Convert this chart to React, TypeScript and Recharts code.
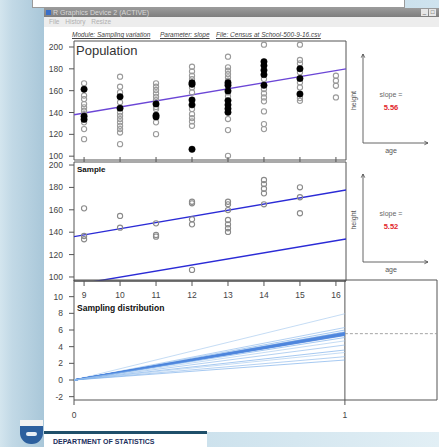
import React from 'react';
import { ComposedChart, Scatter, Line, XAxis, YAxis, ReferenceArea, ReferenceLine } from 'recharts';

// ---------- data ----------
const ages = [9, 10, 11, 12, 13, 14, 15, 16];

// population heights (grey open circles) per age
const popOtherHeights: number[][] = [
  [166.7, 155.5, 152.3, 147.7, 144.7, 141.6, 138.5, 131.0, 124.8, 115.6],
  [172.8, 163.6, 158.4, 149.3, 140.0, 137.0, 134.0, 131.0, 127.8, 124.8, 121.7, 111.0],
  [166.7, 163.6, 160.6, 157.5, 154.4, 151.4, 145.0, 143.1, 131.0, 120.2],
  [181.9, 177.7, 173.7, 170.6, 163.0, 158.4, 143.1, 138.5, 134.9, 131.8, 127.8],
  [191.1, 181.4, 178.3, 175.2, 172.2, 169.1, 158.4, 155.0, 134.0, 123.9, 100.3],
  [202.1, 170.6, 161.5, 157.5, 153.8, 150.2, 141.0, 129.4, 124.8],
  [202.1, 188.1, 185.0, 176.8, 167.6, 163.0, 153.2, 150.7],
  [173.7, 169.1, 164.5, 153.8],
];

// sampled heights (black dots in population, open circles in sample)
const sampleHeights: number[][] = [
  [161.3, 136.6, 133.7],
  [154.5, 144.0],
  [147.9, 137.5, 136.0],
  [167.2, 165.8, 151.5, 147.0, 106.3],
  [167.2, 164.9, 159.8, 150.9, 147.0, 143.5, 140.2],
  [186.6, 183.0, 178.8, 174.7, 164.9],
  [180.1, 171.2, 156.9],
  [],
];

const popFitLine = [{ x: 8.72, y: 137.9 }, { x: 16.28, y: 180.0 }];
const sampleFitLine = [{ x: 8.72, y: 136.0 }, { x: 16.28, y: 177.7 }];
const shiftedFitLine = [{ x: 8.72, y: 92.9 }, { x: 16.28, y: 133.9 }];

const popSlope = 5.56;
const sampleSlope = 5.52;

const simulatedSlopes = [7.95, 6.3, 6.0, 5.8, 5.7, 5.62, 5.56, 5.52, 5.48, 5.42, 5.35, 5.1, 4.7, 4.2, 3.6, 3.3, 2.8, 2.4];

const heightTicks = [100, 120, 140, 160, 180, 200];
const slopeTicks = [-2, 0, 2, 4, 6, 8, 10];
const distTicks = [0, 1];

const ageDomain: [number, number] = [8.72, 16.28];
const popHeightDomain: [number, number] = [96.5, 205.5];
const sampleHeightDomain: [number, number] = [96.4, 202.7];
const distXDomain: [number, number] = [0, 1.34];
const distYDomain: [number, number] = [-2.4, 12];

// ---------- derived tables ----------
const toPoints = (rows: number[][]) =>
  ages.flatMap((a, i) => rows[i].map((h) => ({ x: a, y: h })));
const popOtherPts = toPoints(popOtherHeights);
const samplePts = toPoints(sampleHeights);
const slopeLines = simulatedSlopes.map((s) => [{ x: 0, y: 0 }, { x: 1, y: s }]);
const dashedSeg = [{ x: 1, y: popSlope }, { x: distXDomain[1], y: popSlope }];

const FONT = '"Liberation Sans", Arial, sans-serif';
const tickStyle = { fontSize: 8.5, fill: '#444', fontFamily: FONT };
const W = 439;
const H = 447;

const OpenCircle = (p: any) => (
  <circle cx={p.cx} cy={p.cy} r={2.6} fill="none" stroke="#9a9a9a" strokeWidth={1.1} />
);
const FilledCircle = (p: any) => (
  <circle cx={p.cx} cy={p.cy} r={3.2} fill="#000" stroke="#000" strokeWidth={0.5} />
);
const SampleCircle = (p: any) => (
  <circle cx={p.cx} cy={p.cy} r={2.6} fill="none" stroke="#8a8a8a" strokeWidth={1.1} />
);

const layer: React.CSSProperties = { position: 'absolute', left: 0, top: 0 };

function PopulationChart() {
  return (
    <div style={layer}>
      <ComposedChart width={W} height={H} margin={{ top: 41, right: 93, bottom: 287, left: 44 }}>
        <XAxis type="number" dataKey="x" domain={ageDomain} allowDataOverflow hide />
        <YAxis
          type="number"
          domain={popHeightDomain}
          allowDataOverflow
          ticks={heightTicks}
          width={30}
          axisLine={false}
          tickSize={5}
          tickMargin={6}
          tickLine={{ stroke: '#555' }}
          tick={tickStyle}
          interval={0}
        />
        <ReferenceArea x1={ageDomain[0]} x2={ageDomain[1]} y1={popHeightDomain[0]} y2={popHeightDomain[1]} fill="none" stroke="#555" strokeWidth={1} />
        <Scatter data={popOtherPts} dataKey="y" shape={OpenCircle} isAnimationActive={false} />
        <Scatter data={samplePts} dataKey="y" shape={FilledCircle} isAnimationActive={false} />
        <Line data={popFitLine} dataKey="y" stroke="#6b46d6" strokeWidth={1.4} dot={false} isAnimationActive={false} />
      </ComposedChart>
    </div>
  );
}

function SampleChart() {
  return (
    <div style={layer}>
      <ComposedChart width={W} height={H} margin={{ top: 156, right: 93, bottom: 142, left: 44 }}>
        <XAxis
          xAxisId="b"
          type="number"
          dataKey="x"
          domain={ageDomain}
          allowDataOverflow
          ticks={ages}
          interval={0}
          height={24}
          axisLine={{ stroke: '#444' }}
          tickSize={5}
          tickMargin={6}
          tickLine={{ stroke: '#555' }}
          tick={tickStyle}
        />
        <XAxis
          xAxisId="t"
          orientation="top"
          type="number"
          dataKey="x"
          domain={ageDomain}
          allowDataOverflow
          ticks={ages}
          interval={0}
          height={6}
          axisLine={false}
          tickSize={5}
          tickLine={{ stroke: '#555' }}
          tickFormatter={() => ''}
        />
        <YAxis
          type="number"
          domain={sampleHeightDomain}
          allowDataOverflow
          ticks={heightTicks}
          width={30}
          axisLine={false}
          tickSize={5}
          tickMargin={6}
          tickLine={{ stroke: '#555' }}
          tick={tickStyle}
          interval={0}
        />
        <ReferenceArea xAxisId="b" x1={ageDomain[0]} x2={ageDomain[1]} y1={sampleHeightDomain[0]} y2={sampleHeightDomain[1]} fill="none" stroke="#555" strokeWidth={1} />
        <Scatter xAxisId="b" data={samplePts} dataKey="y" shape={SampleCircle} isAnimationActive={false} />
        <Line xAxisId="b" data={sampleFitLine} dataKey="y" stroke="#2b2bd6" strokeWidth={1.4} dot={false} isAnimationActive={false} />
        <Line xAxisId="b" data={shiftedFitLine} dataKey="y" stroke="#2b2bd6" strokeWidth={1.4} dot={false} isAnimationActive={false} />
      </ComposedChart>
    </div>
  );
}

function DistributionChart() {
  const lightColors = ['#a9cbee', '#8fbbec', '#7aaeea'];
  return (
    <div style={layer}>
      <ComposedChart width={W} height={H} margin={{ top: 280, right: 2, bottom: 19, left: 44 }}>
        <XAxis
          type="number"
          dataKey="x"
          domain={distXDomain}
          allowDataOverflow
          ticks={distTicks}
          interval={0}
          height={28}
          axisLine={false}
          tickSize={5}
          tickMargin={7}
          tickLine={{ stroke: '#555' }}
          tick={tickStyle}
        />
        <YAxis
          type="number"
          domain={distYDomain}
          allowDataOverflow
          ticks={slopeTicks}
          width={30}
          axisLine={false}
          tickSize={5}
          tickMargin={6}
          tickLine={{ stroke: '#555' }}
          tick={tickStyle}
          interval={0}
        />
        <ReferenceArea x1={distXDomain[0]} x2={distXDomain[1]} y1={distYDomain[0]} y2={distYDomain[1]} fill="none" stroke="#555" strokeWidth={1} />
        <ReferenceLine x={1} stroke="#555" strokeWidth={1} />
        <ReferenceLine segment={dashedSeg} stroke="#9a9a9a" strokeDasharray="3 2" strokeWidth={0.9} />
        {slopeLines.map((d, i) => {
          const s = simulatedSlopes[i];
          const near = Math.abs(s - sampleSlope) < 0.2;
          return (
            <Line
              key={i}
              data={d}
              dataKey="y"
              stroke={near ? '#4f86dd' : lightColors[i % 3]}
              strokeOpacity={near ? 0.85 : 0.75}
              strokeWidth={near ? 1.3 : 0.9}
              dot={false}
              isAnimationActive={false}
            />
          );
        })}
      </ComposedChart>
    </div>
  );
}

function Arrow({ x1, y1, x2, y2 }: { x1: number; y1: number; x2: number; y2: number }) {
  const ang = Math.atan2(y2 - y1, x2 - x1);
  const L = 4;
  const a1 = ang + Math.PI - 0.45;
  const a2 = ang + Math.PI + 0.45;
  return (
    <g stroke="#555" strokeWidth={0.9} fill="none">
      <line x1={x1} y1={y1} x2={x2} y2={y2} />
      <polyline points={`${x2 + L * Math.cos(a1)},${y2 + L * Math.sin(a1)} ${x2},${y2} ${x2 + L * Math.cos(a2)},${y2 + L * Math.sin(a2)}`} />
    </g>
  );
}

function MiniPanel({ top, bottom, slope }: { top: number; bottom: number; slope: number }) {
  const mid = (top + bottom) / 2;
  return (
    <g fontFamily={FONT}>
      <Arrow x1={17} y1={bottom} x2={17} y2={top} />
      <Arrow x1={17} y1={bottom} x2={82} y2={bottom} />
      <text x={8} y={mid + 2} fontSize={7} fill="#555" textAnchor="middle" transform={`rotate(-90 8 ${mid + 2})`} dominantBaseline="middle">height</text>
      <text x={45} y={mid - 2} fontSize={7} fill="#666" textAnchor="middle">slope =</text>
      <text x={45} y={mid + 11} fontSize={7.5} fill="#e2262b" fontWeight="bold" textAnchor="middle">{slope.toFixed(2)}</text>
      <text x={45} y={bottom + 10} fontSize={7} fill="#555" textAnchor="middle">age</text>
    </g>
  );
}

export default function App() {
  return (
    <div
      style={{
        position: 'absolute',
        left: 0,
        top: 0,
        width: W,
        height: H,
        overflow: 'hidden',
        background: 'linear-gradient(to right, #d3e5ee 0px, #c2d9e6 12px, #a9c7d9 44px, #cfe3ee 100%)',
        fontFamily: FONT,
      }}
    >
      {/* slide element at very top */}
      <div style={{ position: 'absolute', left: 32, top: -1, width: 371, height: 7, background: '#fff', border: '1px solid #9a9a9a' }} />
      {/* window */}
      <div style={{ position: 'absolute', left: 44, top: 8, width: 395, height: 424, background: '#fff' }} />
      {/* title bar */}
      <div style={{ position: 'absolute', left: 44, top: 8, width: 395, height: 9, background: 'linear-gradient(to bottom, #9a9a9a, #7e7e7e)' }} />
      <div style={{ position: 'absolute', left: 46, top: 10, width: 5, height: 5, background: '#3a6fc8' }} />
      <div style={{ position: 'absolute', left: 53, top: 8, height: 9, lineHeight: '9px', fontSize: 7, color: '#d8d8d8' }}>R Graphics Device 2 (ACTIVE)</div>
      <div style={{ position: 'absolute', left: 421, top: 9, width: 7, height: 7, background: '#e6e6e6', fontSize: 6, lineHeight: '7px', textAlign: 'center', color: '#333' }}>_</div>
      <div style={{ position: 'absolute', left: 429, top: 9, width: 7, height: 7, background: '#e6e6e6', border: '0px', fontSize: 6, lineHeight: '7px', textAlign: 'center', color: '#333' }}>□</div>
      {/* menu bar */}
      <div style={{ position: 'absolute', left: 44, top: 17, width: 395, height: 10, background: '#ededed' }} />
      <div style={{ position: 'absolute', left: 49, top: 17, height: 10, lineHeight: '10px', fontSize: 6.5, color: '#b0b0b0', wordSpacing: 4 }}>File History Resize</div>
      {/* module line */}
      <div style={{ position: 'absolute', left: 72, top: 30, height: 10, lineHeight: '10px', fontSize: 6.5, color: '#444', fontStyle: 'italic', whiteSpace: 'nowrap' }}>
        <span style={{ textDecoration: 'underline' }}>Module: Sampling variation</span>
      </div>
      <div style={{ position: 'absolute', left: 160, top: 30, height: 10, lineHeight: '10px', fontSize: 6.5, color: '#444', fontStyle: 'italic', whiteSpace: 'nowrap' }}>
        <span style={{ textDecoration: 'underline' }}>Parameter: slope</span>
      </div>
      <div style={{ position: 'absolute', left: 216, top: 30, height: 10, lineHeight: '10px', fontSize: 6.5, color: '#444', fontStyle: 'italic', whiteSpace: 'nowrap' }}>
        <span style={{ textDecoration: 'underline' }}>File: Census at School-500-9-16.csv</span>
      </div>

      <PopulationChart />
      <SampleChart />
      <DistributionChart />

      {/* panel titles */}
      <div style={{ position: 'absolute', left: 76, top: 43, fontSize: 13, lineHeight: '15px', color: '#333' }}>Population</div>
      <div style={{ position: 'absolute', left: 77, top: 165, fontSize: 8, lineHeight: '10px', color: '#111', fontWeight: 'bold' }}>Sample</div>
      <div style={{ position: 'absolute', left: 77, top: 303, fontSize: 8.5, lineHeight: '10px', color: '#111', fontWeight: 'bold' }}>Sampling distribution</div>

      {/* slope diagrams */}
      <svg style={{ position: 'absolute', left: 346, top: 0 }} width={93} height={300}>
        <MiniPanel top={54} bottom={143} slope={popSlope} />
        <MiniPanel top={174} bottom={262} slope={sampleSlope} />
      </svg>

      {/* footer */}
      <div style={{ position: 'absolute', left: 44, top: 432, width: 163, height: 15, background: '#fff' }} />
      <div style={{ position: 'absolute', left: 44, top: 431, width: 163, height: 3, background: '#1f4f6a' }} />
      <div style={{ position: 'absolute', left: 207, top: 432, width: 232, height: 15, background: 'linear-gradient(to right, #cde2ed, #e2eff5)' }} />
      <div style={{ position: 'absolute', left: 53, top: 437, fontSize: 7, lineHeight: '9px', fontWeight: 'bold', color: '#1c2f5c', whiteSpace: 'nowrap' }}>DEPARTMENT OF STATISTICS</div>
      <div style={{ position: 'absolute', left: 20, top: 420, width: 23, height: 6, background: '#f2f2f2' }} />
      <div style={{ position: 'absolute', left: 20, top: 426, width: 23, height: 18, background: '#2c5f9e', borderRadius: '0 0 11px 11px' }} />
      <div style={{ position: 'absolute', left: 26, top: 432, width: 11, height: 4, background: '#e8eef5', borderRadius: 2 }} />
    </div>
  );
}
